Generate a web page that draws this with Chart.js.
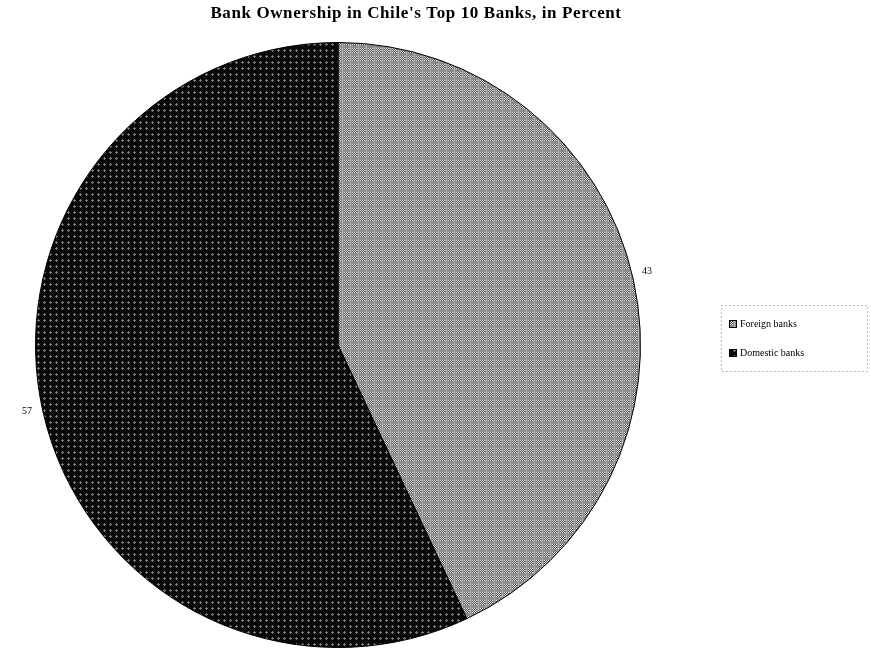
<!DOCTYPE html>
<html>
<head>
<meta charset="utf-8">
<script src="https://cdn.jsdelivr.net/npm/chart.js@4.4.0/dist/chart.umd.min.js"></script>
<style>
  body { margin: 0; background: #fff; }
  #wrap { position: relative; width: 871px; height: 652px; }
</style>
</head>
<body>
<div id="wrap"><canvas id="pieChart" width="871" height="652"></canvas></div>
<script>
// chart data
const titleText = "Bank Ownership in Chile's Top 10 Banks, in Percent";
const categories = ['Foreign banks', 'Domestic banks'];
const shares = [43, 57];

// textured fills like the scanned original
function makePattern(kind) {
    const c = document.createElement('canvas');
    const g = c.getContext('2d');
    if (kind === 'light') {
        c.width = 8; c.height = 8;
        g.fillStyle = '#8c8c8c';
        g.fillRect(0, 0, 8, 8);
        for (let y = 0; y < 8; y++) {
            for (let x = 0; x < 8; x++) {
                if (x < 5 && y < 5) {
                    g.fillStyle = (x + y) % 2 === 0 ? '#f0f0f0' : '#404040';
                    g.fillRect(x, y, 1, 1);
                } else if (x === 6) {
                    g.fillStyle = '#b4b4b4';
                    g.fillRect(x, y, 1, 1);
                }
            }
        }
    } else {
        c.width = 6; c.height = 6;
        g.fillStyle = '#080808';
        g.fillRect(0, 0, 6, 6);
        g.fillStyle = '#7a7a7a';
        g.fillRect(2, 1, 1, 3);
        g.fillRect(1, 2, 3, 1);
    }
    return g.createPattern(c, 'repeat');
}

const ctx = document.getElementById('pieChart').getContext('2d');
const fills = [makePattern('light'), makePattern('dark')];

// title, value labels and legend drawn by hand to match positions
const decorPlugin = {
    id: 'decor',
    afterDraw(chart) {
        const c = chart.ctx;
        c.save();
        c.fillStyle = '#000';
        c.font = 'bold 17px "Liberation Serif", serif';
        c.letterSpacing = '0.6px';
        c.textAlign = 'center';
        c.textBaseline = 'middle';
        c.fillText(titleText, 416, 14);
        c.letterSpacing = '0px';

        // value labels outside the slices
        const arcs = chart.getDatasetMeta(0).data;
        c.font = '10px "Liberation Serif", serif';
        arcs.forEach((arc, i) => {
            const mid = (arc.startAngle + arc.endAngle) / 2;
            const r = arc.outerRadius + 12;
            const lx = arc.x + Math.cos(mid) * r + (i === 0 ? 2 : -4);
            const ly = arc.y + Math.sin(mid) * r + (i === 0 ? -5 : -2);
            c.fillText(String(shares[i]), lx, ly);
        });

        // legend box
        c.strokeStyle = '#777';
        c.lineWidth = 1;
        c.setLineDash([1, 3]);
        c.strokeRect(721.5, 305.5, 146, 66);
        c.setLineDash([]);
        c.textAlign = 'left';
        c.font = '10px "Liberation Serif", serif';
        categories.forEach((name, i) => {
            const y = 324 + i * 29;
            c.fillStyle = fills[i];
            c.fillRect(729, y - 4, 8, 8);
            c.strokeStyle = '#000';
            c.strokeRect(729.5, y - 3.5, 7, 7);
            c.fillStyle = '#000';
            c.fillText(name, 740, y);
        });
        c.restore();
    }
};

const myChart = new Chart(ctx, {
    type: 'pie',
    data: {
        labels: categories,
        datasets: [{
            data: shares,
            backgroundColor: fills,
            borderColor: '#000',
            borderWidth: 1
        }]
    },
    options: {
        responsive: false,
        animation: false,
        layout: {
            padding: { left: 35, right: 230, top: 42, bottom: 4 }
        },
        plugins: {
            legend: { display: false },
            title: { display: false },
            tooltip: { enabled: false }
        }
    },
    plugins: [decorPlugin]
});
</script>
</body>
</html>
